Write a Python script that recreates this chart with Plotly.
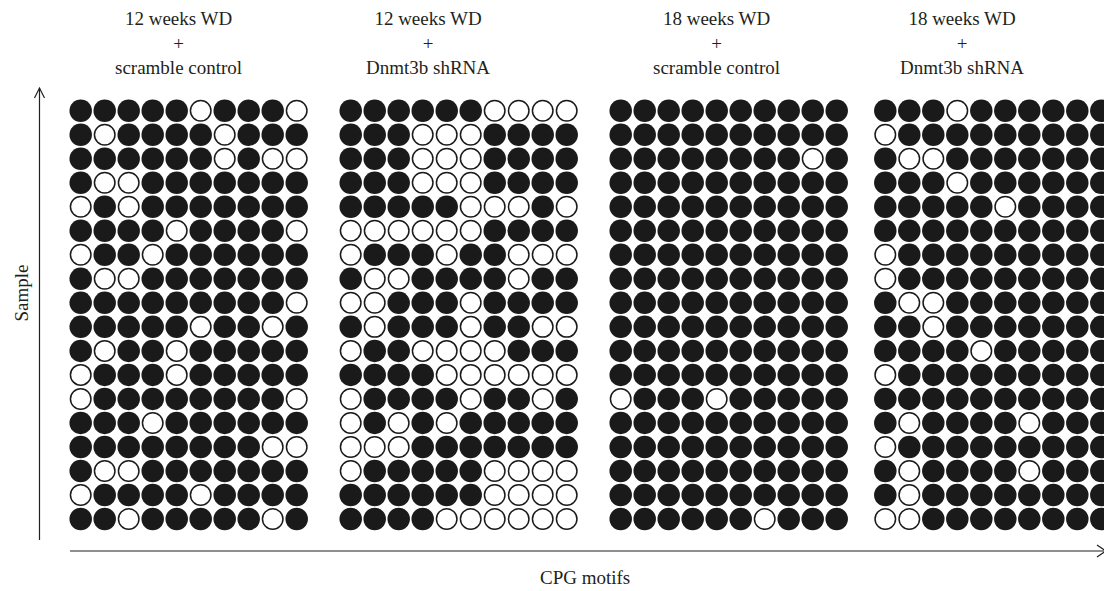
import plotly.graph_objects as go

# 1 = methylated (filled), 0 = unmethylated (open); rows = samples, cols = CpG motifs
panel_titles = [
    "12 weeks WD<br>+<br>scramble control",
    "12 weeks WD<br>+<br>Dnmt3b shRNA",
    "18 weeks WD<br>+<br>scramble control",
    "18 weeks WD<br>+<br>Dnmt3b shRNA",
]

wd12_scramble = [
    [1, 1, 1, 1, 1, 0, 1, 1, 1, 0],
    [1, 0, 1, 1, 1, 1, 0, 1, 1, 1],
    [1, 1, 1, 1, 1, 1, 0, 1, 0, 0],
    [1, 0, 0, 1, 1, 1, 1, 1, 1, 1],
    [0, 1, 0, 1, 1, 1, 1, 1, 1, 1],
    [1, 1, 1, 1, 0, 1, 1, 1, 1, 0],
    [0, 1, 1, 0, 1, 1, 1, 1, 1, 1],
    [1, 0, 0, 1, 1, 1, 1, 1, 1, 1],
    [1, 1, 1, 1, 1, 1, 1, 1, 1, 0],
    [1, 1, 1, 1, 1, 0, 1, 1, 0, 1],
    [1, 0, 1, 1, 0, 1, 1, 1, 1, 1],
    [0, 1, 1, 1, 0, 1, 1, 1, 1, 1],
    [0, 1, 1, 1, 1, 1, 1, 1, 1, 0],
    [1, 1, 1, 0, 1, 1, 1, 1, 1, 1],
    [1, 1, 1, 1, 1, 1, 1, 1, 0, 0],
    [1, 0, 0, 1, 1, 1, 1, 1, 1, 1],
    [0, 1, 1, 1, 1, 0, 1, 1, 1, 1],
    [1, 1, 0, 1, 1, 1, 1, 1, 0, 1],
]

wd12_shrna = [
    [1, 1, 1, 1, 1, 1, 0, 0, 0, 0],
    [1, 1, 1, 0, 0, 0, 1, 1, 1, 1],
    [1, 1, 1, 0, 0, 0, 1, 1, 1, 1],
    [1, 1, 1, 0, 0, 0, 1, 1, 1, 1],
    [1, 1, 1, 1, 1, 0, 0, 0, 1, 0],
    [0, 0, 0, 0, 0, 0, 1, 1, 1, 1],
    [0, 1, 1, 1, 0, 1, 1, 0, 0, 0],
    [1, 0, 0, 1, 1, 1, 1, 0, 1, 1],
    [0, 0, 1, 1, 1, 0, 1, 1, 1, 1],
    [1, 0, 1, 1, 1, 0, 1, 1, 0, 0],
    [0, 1, 1, 0, 0, 0, 0, 1, 1, 1],
    [1, 1, 1, 1, 0, 0, 0, 0, 0, 0],
    [0, 1, 1, 1, 1, 0, 1, 1, 0, 1],
    [0, 1, 0, 1, 0, 1, 1, 1, 1, 1],
    [0, 0, 0, 1, 1, 1, 1, 1, 1, 1],
    [0, 1, 1, 1, 1, 1, 0, 0, 0, 0],
    [1, 1, 1, 1, 1, 1, 0, 0, 0, 0],
    [1, 1, 1, 1, 0, 0, 0, 0, 0, 0],
]

wd18_scramble = [
    [1, 1, 1, 1, 1, 1, 1, 1, 1, 1],
    [1, 1, 1, 1, 1, 1, 1, 1, 1, 1],
    [1, 1, 1, 1, 1, 1, 1, 1, 0, 1],
    [1, 1, 1, 1, 1, 1, 1, 1, 1, 1],
    [1, 1, 1, 1, 1, 1, 1, 1, 1, 1],
    [1, 1, 1, 1, 1, 1, 1, 1, 1, 1],
    [1, 1, 1, 1, 1, 1, 1, 1, 1, 1],
    [1, 1, 1, 1, 1, 1, 1, 1, 1, 1],
    [1, 1, 1, 1, 1, 1, 1, 1, 1, 1],
    [1, 1, 1, 1, 1, 1, 1, 1, 1, 1],
    [1, 1, 1, 1, 1, 1, 1, 1, 1, 1],
    [1, 1, 1, 1, 1, 1, 1, 1, 1, 1],
    [0, 1, 1, 1, 0, 1, 1, 1, 1, 1],
    [1, 1, 1, 1, 1, 1, 1, 1, 1, 1],
    [1, 1, 1, 1, 1, 1, 1, 1, 1, 1],
    [1, 1, 1, 1, 1, 1, 1, 1, 1, 1],
    [1, 1, 1, 1, 1, 1, 1, 1, 1, 1],
    [1, 1, 1, 1, 1, 1, 0, 1, 1, 1],
]

wd18_shrna = [
    [1, 1, 1, 0, 1, 1, 1, 1, 1, 1],
    [0, 1, 1, 1, 1, 1, 1, 1, 1, 1],
    [1, 0, 0, 1, 1, 1, 1, 1, 1, 1],
    [1, 1, 1, 0, 1, 1, 1, 1, 1, 1],
    [1, 1, 1, 1, 1, 0, 1, 1, 1, 1],
    [1, 1, 1, 1, 1, 1, 1, 1, 1, 1],
    [0, 1, 1, 1, 1, 1, 1, 1, 1, 1],
    [0, 1, 1, 1, 1, 1, 1, 1, 1, 1],
    [1, 0, 0, 1, 1, 1, 1, 1, 1, 1],
    [1, 1, 0, 1, 1, 1, 1, 1, 1, 1],
    [1, 1, 1, 1, 0, 1, 1, 1, 1, 1],
    [0, 1, 1, 1, 1, 1, 1, 1, 1, 1],
    [1, 1, 1, 1, 1, 1, 1, 1, 1, 1],
    [1, 0, 1, 1, 1, 1, 0, 1, 1, 1],
    [0, 1, 1, 1, 1, 1, 1, 1, 1, 1],
    [1, 0, 1, 1, 1, 1, 0, 1, 1, 1],
    [1, 0, 1, 1, 1, 1, 1, 1, 1, 1],
    [0, 0, 1, 1, 1, 1, 1, 1, 1, 1],
]

panels = [wd12_scramble, wd12_shrna, wd18_scramble, wd18_shrna]

# ---- layout geometry (page pixels; the page body adds an 8px margin) ----
OFF = 8
W, H = 1112 - OFF, 591 - OFF
FONT = "Liberation Serif, Times New Roman, serif"
TXT = "#231f20"
DOT = "#1a1a1a"
pitch = 24.0
panel_left = [68.7, 338.7, 608.7, 873.3]   # page x of each panel's left edge
title_cx = [178, 428, 716, 962]
grid_top, grid_bot = 98.7, 531.0


def fx(x):
    return (x - OFF) / W


def fy(y):
    return 1 - (y - OFF) / H


fig = go.Figure()
layout_axes = {}
for i, data in enumerate(panels):
    ax = "" if i == 0 else str(i + 1)
    xs_f, ys_f, xs_o, ys_o = [], [], [], []
    for r, row in enumerate(data):
        for c, v in enumerate(row):
            if v:
                xs_f.append(c); ys_f.append(r)
            else:
                xs_o.append(c); ys_o.append(r)
    fig.add_trace(go.Scatter(
        x=xs_f, y=ys_f, mode="markers", xaxis="x" + ax, yaxis="y" + ax,
        marker=dict(symbol="circle", size=22.5, color=DOT, line=dict(width=0)),
        cliponaxis=False, hoverinfo="skip", showlegend=False))
    fig.add_trace(go.Scatter(
        x=xs_o, y=ys_o, mode="markers", xaxis="x" + ax, yaxis="y" + ax,
        marker=dict(symbol="circle", size=20.5, color="white",
                    line=dict(width=1.5, color=DOT)),
        cliponaxis=False, hoverinfo="skip", showlegend=False))
    x0 = fx(panel_left[i])
    x1 = min(1.0, fx(panel_left[i] + 10 * pitch))
    xr_end = -0.5 + (x1 * W + OFF - panel_left[i]) / pitch
    layout_axes["xaxis" + ax] = dict(domain=[x0, x1], range=[-0.5, xr_end],
                                     visible=False, fixedrange=True,
                                     anchor="y" + ax)
    layout_axes["yaxis" + ax] = dict(domain=[fy(grid_bot), fy(grid_top)],
                                     range=[len(data) - 0.5, -0.5],
                                     visible=False, fixedrange=True,
                                     anchor="x" + ax)

annotations = []
for i, t in enumerate(panel_titles):
    annotations.append(dict(
        text=t, x=fx(title_cx[i]), y=fy(43), xref="paper", yref="paper",
        xanchor="center", yanchor="middle", showarrow=False, align="center",
        font=dict(family=FONT, size=19, color=TXT)))
annotations.append(dict(
    text="Sample", x=0, y=fy(293), xref="paper", yref="paper",
    textangle=-90, showarrow=False, xanchor="left", yanchor="middle",
    font=dict(family=FONT, size=19, color=TXT)))
annotations.append(dict(
    text="CPG motifs", x=fx(585), y=fy(577), xref="paper", yref="paper",
    showarrow=False, xanchor="center", yanchor="middle",
    font=dict(family=FONT, size=19, color=TXT)))


def P(x, y):
    return f"{fx(x):.5f},{fy(y):.5f}"


shapes = [
    # vertical arrow (Sample)
    dict(type="path", xref="paper", yref="paper",
         path=f"M{P(39.5, 540)} L{P(39.5, 88)}",
         line=dict(color=TXT, width=1.2)),
    dict(type="path", xref="paper", yref="paper",
         path=f"M{P(34.5, 98)} L{P(39.5, 88)} L{P(44.5, 98)}",
         line=dict(color=TXT, width=1.2)),
    # horizontal arrow (CPG motifs)
    dict(type="path", xref="paper", yref="paper",
         path=f"M{P(70, 551)} L{P(1106, 551)}",
         line=dict(color=TXT, width=1.2)),
    dict(type="path", xref="paper", yref="paper",
         path=f"M{P(1097, 545)} L{P(1106, 551)} L{P(1097, 557)}",
         line=dict(color=TXT, width=1.2)),
]

fig.update_layout(
    width=W, height=H, margin=dict(l=0, r=0, t=0, b=0),
    paper_bgcolor="white", plot_bgcolor="white", showlegend=False,
    annotations=annotations, shapes=shapes, **layout_axes)

fig.write_html("out.html")
